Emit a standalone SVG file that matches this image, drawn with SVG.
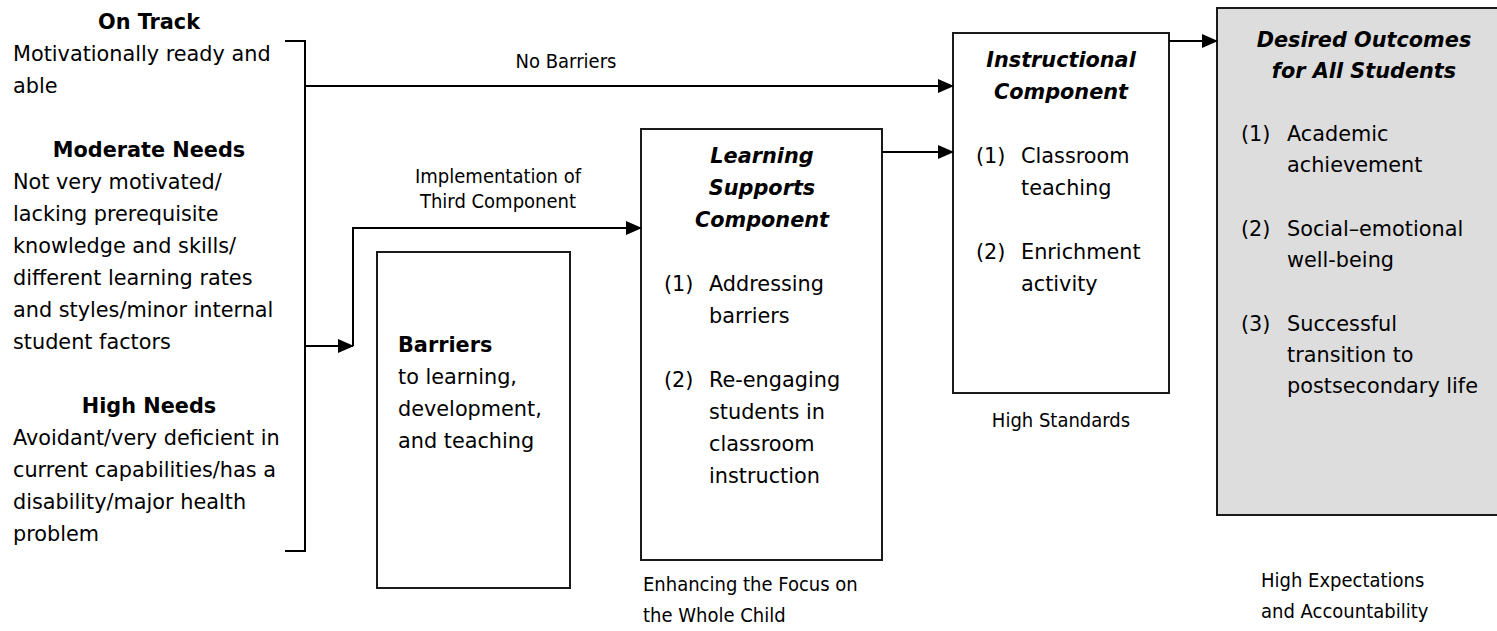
<svg xmlns="http://www.w3.org/2000/svg" width="1497" height="631" viewBox="0 0 1497 631">
<style>
text{font-family:'DejaVu Sans',Verdana,sans-serif;font-size:20.8px;fill:#000}
.b{font-weight:bold}
.bi{font-weight:bold;font-style:italic}
.c{text-anchor:middle}
.lbl{font-family:'DejaVu Sans Condensed','DejaVu Sans',sans-serif;font-stretch:condensed;font-size:20px}
.box{fill:#fff;stroke:#1a1a1a;stroke-width:2}
.grey{fill:#dddddd;stroke:#1a1a1a;stroke-width:2}
.ln{fill:none;stroke:#000;stroke-width:2}
</style>
<defs>
<marker id="ah" markerWidth="16" markerHeight="14" refX="15" refY="7" orient="auto" markerUnits="userSpaceOnUse">
<path d="M0,0 L16,7 L0,14 Z" fill="#000"/>
</marker>
</defs>
<rect width="1497" height="631" fill="#fff"/>

<g id="groups">
<text class="b c" x="149" y="29">On Track</text>
<text x="13" y="61">Motivationally ready and</text>
<text x="13" y="93">able</text>
<text class="b c" x="149" y="157">Moderate Needs</text>
<text x="13" y="189">Not very motivated/</text>
<text x="13" y="221">lacking prerequisite</text>
<text x="13" y="253">knowledge and skills/</text>
<text x="13" y="285">different learning rates</text>
<text x="13" y="317">and styles/minor internal</text>
<text x="13" y="349">student factors</text>
<text class="b c" x="149" y="413">High Needs</text>
<text x="13" y="445">Avoidant/very deficient in</text>
<text x="13" y="477">current capabilities/has a</text>
<text x="13" y="509">disability/major health</text>
<text x="13" y="541">problem</text>
</g>

<g id="barriers">
<rect class="box" x="377" y="252" width="193" height="336"/>
<text class="b" x="398" y="352">Barriers</text>
<text x="398" y="384">to learning,</text>
<text x="398" y="416">development,</text>
<text x="398" y="448">and teaching</text>
</g>

<g id="learning-supports">
<rect class="box" x="641" y="129" width="241" height="431"/>
<text class="bi c" x="762" y="163">Learning</text>
<text class="bi c" x="762" y="195">Supports</text>
<text class="bi c" x="762" y="227">Component</text>
<text x="664" y="291">(1)</text><text x="709" y="291">Addressing</text>
<text x="709" y="323">barriers</text>
<text x="664" y="387">(2)</text><text x="709" y="387">Re-engaging</text>
<text x="709" y="419">students in</text>
<text x="709" y="451">classroom</text>
<text x="709" y="483">instruction</text>
</g>

<g id="instructional">
<rect class="box" x="953" y="33" width="216" height="360"/>
<text class="bi c" x="1061" y="67">Instructional</text>
<text class="bi c" x="1061" y="99">Component</text>
<text x="976" y="163">(1)</text><text x="1021" y="163">Classroom</text>
<text x="1021" y="195">teaching</text>
<text x="976" y="259">(2)</text><text x="1021" y="259">Enrichment</text>
<text x="1021" y="291">activity</text>
</g>

<g id="outcomes">
<rect class="grey" x="1217" y="8" width="300" height="507"/>
<text class="bi c" x="1364" y="47">Desired Outcomes</text>
<text class="bi c" x="1364" y="78">for All Students</text>
<text x="1241" y="141">(1)</text><text x="1287" y="141">Academic</text>
<text x="1287" y="172">achievement</text>
<text x="1241" y="236">(2)</text><text x="1287" y="236">Social–emotional</text>
<text x="1287" y="267">well-being</text>
<text x="1241" y="331">(3)</text><text x="1287" y="331">Successful</text>
<text x="1287" y="362">transition to</text>
<text x="1287" y="393">postsecondary life</text>
</g>

<g id="connectors">
<path class="ln" d="M285,41 H305 V551 H285"/>
<path class="ln" d="M305,86 H953" marker-end="url(#ah)"/>
<path class="ln" d="M305,346 H353" marker-end="url(#ah)"/>
<path class="ln" d="M353,346 V228 H641" marker-end="url(#ah)"/>
<path class="ln" d="M882,152 H953" marker-end="url(#ah)"/>
<path class="ln" d="M1169,41 H1217" marker-end="url(#ah)"/>
</g>

<g id="labels">
<text class="lbl c" x="566" y="68">No Barriers</text>
<text class="lbl c" x="498" y="183">Implementation of</text>
<text class="lbl c" x="498" y="208">Third Component</text>
<text class="lbl c" x="1061" y="427">High Standards</text>
<text class="lbl" x="643" y="591">Enhancing the Focus on</text>
<text class="lbl" x="643" y="622">the Whole Child</text>
<text class="lbl" x="1261" y="587">High Expectations</text>
<text class="lbl" x="1261" y="618">and Accountability</text>
</g>
</svg>
